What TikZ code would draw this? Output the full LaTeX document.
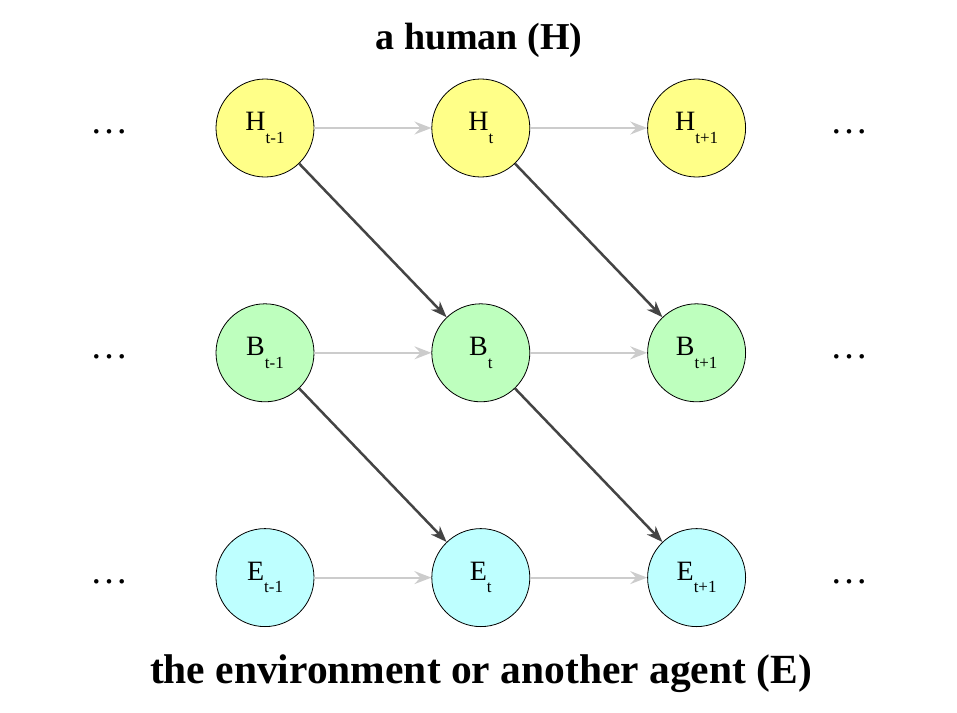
\documentclass[tikz,border=0pt]{standalone}
\usepackage{fontspec}
\setmainfont{Liberation Serif}
\usetikzlibrary{arrows.meta,positioning}
\definecolor{hyellow}{RGB}{255,255,136}
\definecolor{bgreen}{RGB}{190,255,190}
\definecolor{ecyan}{RGB}{190,255,255}
\definecolor{lgray}{RGB}{204,204,204}
\definecolor{dgray}{RGB}{68,68,68}
\newcommand{\sub}[1]{\raisebox{-0.45em}{\fontsize{17}{17}\selectfont #1}}
\tikzset{
    state/.style={circle, draw=black, line width=0.8pt, minimum size=98pt,
    inner sep=0pt, text centered, font=\fontsize{28}{28}\selectfont},
    hstate/.style={state, fill=hyellow},
    bstate/.style={state, fill=bgreen},
    estate/.style={state, fill=ecyan},
    dotsnode/.style={font=\fontsize{38}{38}\selectfont},
    heading/.style={font=\fontsize{41.5}{41.5}\selectfont\bfseries},
    stepline/.style={-{Stealth[length=17pt,width=13pt,inset=6pt]}, draw=lgray, line width=2pt},
    causeline/.style={-{Stealth[length=16pt,width=12pt,inset=5pt]}, draw=dgray, line width=2.5pt}
}
\begin{document}
\begin{tikzpicture}[x=1pt, y=-1pt, node distance=126pt and 117pt]
  \useasboundingbox (0,0) rectangle (957,712);

  % the human
  \node[hstate] (H1) at (265,128) {H\sub{t-1}};
  \node[hstate] (H2) [right=of H1] {H\sub{t}};
  \node[hstate] (H3) [right=of H2] {H\sub{t+1}};

  % the belief
  \node[bstate] (B1) [below=of H1] {B\sub{t-1}};
  \node[bstate] (B2) [right=of B1] {B\sub{t}};
  \node[bstate] (B3) [right=of B2] {B\sub{t+1}};

  % the environment
  \node[estate] (E1) [below=of B1] {E\sub{t-1}};
  \node[estate] (E2) [right=of E1] {E\sub{t}};
  \node[estate] (E3) [right=of E2] {E\sub{t+1}};

  \node[dotsnode] (HL) at (109,132) {\dots};
  \node[dotsnode] (BL) at (109,357) {\dots};
  \node[dotsnode] (EL) at (109,582) {\dots};
  \node[dotsnode] (HR) at (849,132) {\dots};
  \node[dotsnode] (BR) at (849,357) {\dots};
  \node[dotsnode] (ER) at (849,582) {\dots};

  \node[heading, font=\fontsize{38}{38}\selectfont\bfseries] (top) at (479,40) {a human (H)};
  \node[heading] (bottom) at (481,674) {the environment or another agent (E)};

  \draw[stepline] (H1) -- (H2);
  \draw[stepline] (H2) -- (H3);
  \draw[stepline] (B1) -- (B2);
  \draw[stepline] (B2) -- (B3);
  \draw[stepline] (E1) -- (E2);
  \draw[stepline] (E2) -- (E3);

  \draw[causeline] (H1) -- (B2);
  \draw[causeline] (H2) -- (B3);
  \draw[causeline] (B1) -- (E2);
  \draw[causeline] (B2) -- (E3);
\end{tikzpicture}
\end{document}
